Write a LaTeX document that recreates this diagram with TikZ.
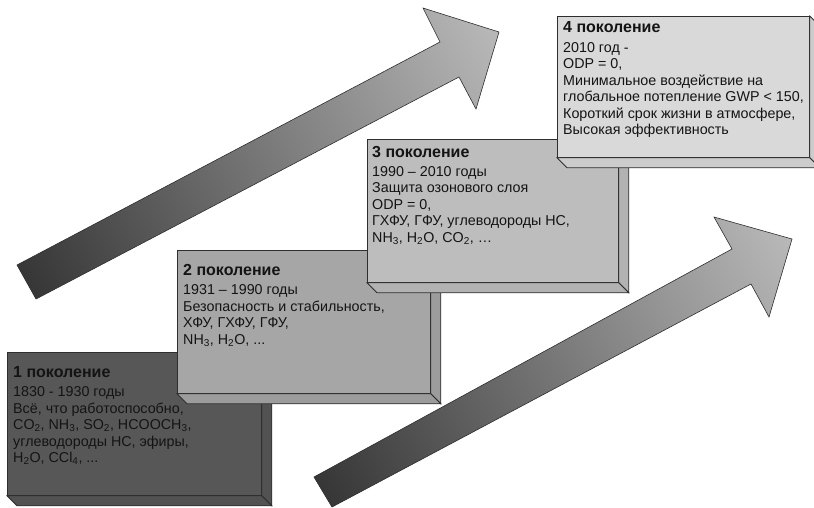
\documentclass[tikz,border=0pt]{standalone}
\usepackage{fontspec}
\setmainfont{Liberation Sans}
\usetikzlibrary{calc}

\definecolor{edgegray}{HTML}{2E2E2E}
\definecolor{arrowdark}{HTML}{363636}
\definecolor{arrowlight}{HTML}{B9B9B9}
\definecolor{genone}{HTML}{575757}
\definecolor{gentwo}{HTML}{A6A6A6}
\definecolor{genthree}{HTML}{BDBDBD}
\definecolor{genfour}{HTML}{D9D9D9}
\definecolor{inkcol}{HTML}{141414}

\begin{document}
\begin{tikzpicture}[x=1pt,y=-1pt,
  face/.style={draw=edgegray, line width=0.8pt, rectangle, inner sep=0pt, anchor=north west},
  sideface/.style={draw=edgegray, line width=0.8pt, line join=miter},
  arrowline/.style={draw=edgegray, line width=0.6pt, line join=miter},
  boxtext/.style={anchor=north west, inner sep=0pt, align=left, text=inkcol,
    font=\fontsize{14.3}{16.5}\selectfont}]
\useasboundingbox (0,0) rectangle (814,507);
\clip (0,0) rectangle (814,507);
\fill[white] (0,0) rectangle (814,507);

% ---------- upper shaded arrow ----------
\coordinate (ua1) at (17,265);
\coordinate (ua2) at (440,42);
\coordinate (ua3) at (423,8);
\coordinate (ua4) at (499,32);
\coordinate (ua5) at (476,109);
\coordinate (ua6) at (459,77);
\coordinate (ua7) at (36,299);
\coordinate (uatail) at ($(ua1)!0.5!(ua7)$);
\begin{scope}
  \clip (ua1) -- (ua2) -- (ua3) -- (ua4) -- (ua5) -- (ua6) -- (ua7) -- cycle;
  \shade[transform canvas={rotate around={27.9:(uatail)}},
         left color=arrowdark, right color=arrowlight]
    ($(uatail)+(-2,-75)$) rectangle ++(538,150);
\end{scope}
\draw[arrowline] (ua1) -- (ua2) -- (ua3) -- (ua4) -- (ua5) -- (ua6) -- (ua7) -- cycle;

% ---------- lower shaded arrow ----------
\coordinate (la1) at (314,477);
\coordinate (la2) at (732,249);
\coordinate (la3) at (714,217);
\coordinate (la4) at (792,239);
\coordinate (la5) at (769,317);
\coordinate (la6) at (751,284);
\coordinate (la7) at (332,507);
\coordinate (latail) at ($(la1)!0.5!(la7)$);
\begin{scope}
  \clip (la1) -- (la2) -- (la3) -- (la4) -- (la5) -- (la6) -- (la7) -- cycle;
  \shade[transform canvas={rotate around={28.3:(latail)}},
         left color=arrowdark, right color=arrowlight]
    ($(latail)+(-2,-75)$) rectangle ++(536,150);
\end{scope}
\draw[arrowline] (la1) -- (la2) -- (la3) -- (la4) -- (la5) -- (la6) -- (la7) -- cycle;

% ---------- generation 1 ----------
\node[face, fill=genone, minimum width=254pt, minimum height=143pt] (g1) at (7,352) {};
\draw[sideface, fill=genone!94!black] (g1.north east) -- ++(10,10) -- ($(g1.south east)+(10,10)$) -- (g1.south east) -- cycle;
\draw[sideface, fill=genone!94!black] (g1.south west) -- (g1.south east) -- ++(10,10) -- ($(g1.south west)+(10,10)$) -- cycle;
\node[boxtext] (t1) at (13,366.5) {{\fontsize{16}{18}\selectfont\bfseries 1 поколение}\\[2.5pt]
  1830 - 1930 годы\\
  Всё, что работоспособно,\\
  CO\textsubscript{2}, NH\textsubscript{3}, SO\textsubscript{2}, HCOOCH\textsubscript{3},\\
  углеводороды HC, эфиры,\\
  H\textsubscript{2}O, CCl\textsubscript{4}, ...};

% ---------- generation 2 ----------
\node[face, fill=gentwo, minimum width=253pt, minimum height=143pt] (g2) at (177,250) {};
\draw[sideface, fill=gentwo!94!black] (g2.north east) -- ++(10,10) -- ($(g2.south east)+(10,10)$) -- (g2.south east) -- cycle;
\draw[sideface, fill=gentwo!94!black] (g2.south west) -- (g2.south east) -- ++(10,10) -- ($(g2.south west)+(10,10)$) -- cycle;
\node[boxtext] (t2) at (183,264.5) {{\fontsize{16}{18}\selectfont\bfseries 2 поколение}\\[2.5pt]
  1931 – 1990 годы\\
  Безопасность и стабильность,\\
  ХФУ, ГХФУ, ГФУ,\\
  NH\textsubscript{3}, H\textsubscript{2}O, ...};

% ---------- generation 3 ----------
\node[face, fill=genthree, minimum width=251pt, minimum height=143pt] (g3) at (367,139) {};
\draw[sideface, fill=genthree!94!black] (g3.north east) -- ++(10,10) -- ($(g3.south east)+(10,10)$) -- (g3.south east) -- cycle;
\draw[sideface, fill=genthree!94!black] (g3.south west) -- (g3.south east) -- ++(10,10) -- ($(g3.south west)+(10,10)$) -- cycle;
\node[boxtext] (t3) at (372,146) {{\fontsize{16}{18}\selectfont\bfseries 3 поколение}\\[2.5pt]
  1990 – 2010 годы\\
  Защита озонового слоя\\
  ODP = 0,\\
  ГХФУ, ГФУ, углеводороды HC,\\
  NH\textsubscript{3}, H\textsubscript{2}O, CO\textsubscript{2}, …};

% ---------- generation 4 ----------
\node[face, fill=genfour, minimum width=252pt, minimum height=141pt] (g4) at (557,16) {};
\draw[sideface, fill=genfour!94!black] (g4.north east) -- ++(10,10) -- ($(g4.south east)+(10,10)$) -- (g4.south east) -- cycle;
\draw[sideface, fill=genfour!94!black] (g4.south west) -- (g4.south east) -- ++(10,10) -- ($(g4.south west)+(10,10)$) -- cycle;
\node[boxtext] (t4) at (563,21.5) {{\fontsize{16}{18}\selectfont\bfseries 4 поколение}\\[3pt]
  2010 год -\\
  ODP = 0,\\
  Минимальное воздействие на\\
  глобальное потепление GWP < 150,\\
  Короткий срок жизни в атмосфере,\\
  Высокая эффективность};
\end{tikzpicture}
\end{document}
